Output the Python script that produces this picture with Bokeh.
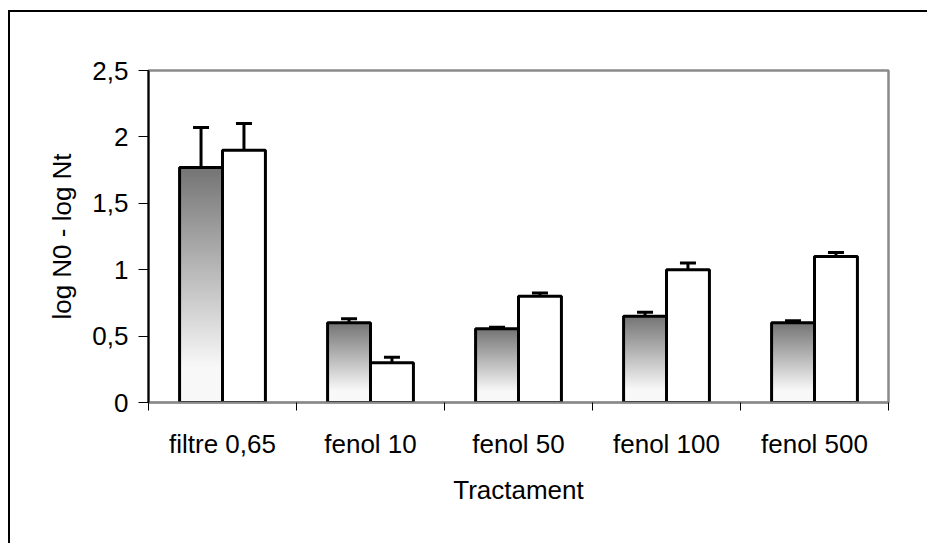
from bokeh.plotting import figure
from bokeh.models import (ColumnDataSource, FixedTicker, CustomJSTickFormatter,
                          Whisker, TeeHead, Range1d)
from bokeh.embed import file_html
from bokeh.resources import INLINE

# Treatment groups and measured log reductions (mean and error)
categories = ["filtre 0,65", "fenol 10", "fenol 50", "fenol 100", "fenol 500"]
series_a = [1.77, 0.60, 0.555, 0.65, 0.60]
series_a_err = [0.30, 0.03, 0.012, 0.03, 0.015]
series_b = [1.90, 0.30, 0.80, 1.00, 1.10]
series_b_err = [0.20, 0.04, 0.025, 0.05, 0.03]
y_ticks = [0, 0.5, 1, 1.5, 2, 2.5]

FONT = "Liberation Sans"
BAR_W = 0.29

p = figure(width=927, height=543, output_backend="svg", toolbar_location=None,
           x_range=Range1d(0, len(categories)), y_range=Range1d(0, 2.5),
           frame_width=740, frame_height=332,
           min_border_left=148, min_border_right=39,
           min_border_top=70, min_border_bottom=141)
# chart-area frame: left and top edges painted on the host background,
# visible through the transparent border area of the canvas
p.styles = {"background": ("linear-gradient(#000, #000) 8px 10px / 2px 100% no-repeat, "
                           "linear-gradient(#000, #000) 8px 10px / 100% 2px no-repeat, "
                           "#ffffff")}
p.background_fill_color = "white"
p.border_fill_color = None
p.grid.visible = False
p.outline_line_color = "#8a8a8a"
p.outline_line_width = 2.5

centers = [i + 0.5 for i in range(len(categories))]


def grey_at(frac_from_top):
    # dark grey at the top of the bar, fading to near white towards the base
    t = min(frac_from_top / 0.85, 1.0)
    v = int(round(0x74 + t * (0xf8 - 0x74)))
    return "#%02x%02x%02x" % (v, v, v)


# gradient-filled bars for the first series: nested quads from the base,
# tallest (darkest) first so every lighter one covers the lower part
n_slices = 90
sl = dict(left=[], right=[], top=[], color=[])
for c, v in zip(centers, series_a):
    for k in range(n_slices, 0, -1):
        sl["left"].append(c - BAR_W)
        sl["right"].append(c)
        sl["top"].append(v * k / n_slices)
        sl["color"].append(grey_at(1 - (k - 0.5) / n_slices))
p.quad(left="left", right="right", bottom=0, top="top", source=ColumnDataSource(sl),
       fill_color="color", line_color=None)

# outlines of the first series
p.quad(left=[c - BAR_W for c in centers], right=centers, bottom=0, top=series_a,
       fill_color=None, line_color="black", line_width=3)
# second series: white bars
p.quad(left=centers, right=[c + BAR_W for c in centers], bottom=0, top=series_b,
       fill_color="white", line_color="black", line_width=3)

# error bars
ea = ColumnDataSource(dict(x=[c - BAR_W / 2 for c in centers],
                           lo=[v - e for v, e in zip(series_a, series_a_err)],
                           hi=[v + e for v, e in zip(series_a, series_a_err)]))
eb = ColumnDataSource(dict(x=[c + BAR_W / 2 for c in centers],
                           lo=[v - e for v, e in zip(series_b, series_b_err)],
                           hi=[v + e for v, e in zip(series_b, series_b_err)]))
for src in (ea, eb):
    w = Whisker(base="x", lower="lo", upper="hi", source=src, line_color="black", line_width=3,
                upper_head=TeeHead(size=16, line_color="black", line_width=3),
                lower_head=TeeHead(size=16, line_color="black", line_width=3))
    p.add_layout(w)

# y axis
yax = p.yaxis[0]
yax.ticker = FixedTicker(ticks=y_ticks, minor_ticks=[])
yax.formatter = CustomJSTickFormatter(code="return tick.toString().replace('.', ',');")
yax.axis_line_color = "black"
yax.axis_line_width = 2
yax.major_tick_out = 10
yax.major_tick_in = 0
yax.major_tick_line_color = "black"
yax.minor_tick_out = 0
yax.minor_tick_in = 0
yax.major_label_standoff = 10
yax.major_label_text_font = FONT
yax.major_label_text_font_size = "26px"
yax.major_label_text_color = "black"
yax.axis_label = "log N0 - log Nt"
yax.axis_label_text_font = FONT
yax.axis_label_text_font_size = "26px"
yax.axis_label_text_font_style = "normal"
yax.axis_label_text_color = "black"
yax.axis_label_standoff = 12

# x axis: labels at group centres, ticks on group boundaries
xax = p.xaxis[0]
xax.ticker = FixedTicker(ticks=centers, minor_ticks=list(range(len(categories) + 1)))
xax.formatter = CustomJSTickFormatter(args=dict(labels=categories),
                                      code="return labels[Math.floor(tick)];")
xax.axis_line_color = "#8a8a8a"
xax.axis_line_width = 2
xax.major_tick_out = 0
xax.major_tick_in = 0
xax.minor_tick_out = 8
xax.minor_tick_in = 0
xax.minor_tick_line_color = "black"
xax.minor_tick_line_width = 1
xax.major_label_standoff = 18
xax.major_label_text_font = FONT
xax.major_label_text_font_size = "26px"
xax.major_label_text_color = "black"
xax.axis_label = "Tractament"
xax.axis_label_text_font = FONT
xax.axis_label_text_font_size = "26px"
xax.axis_label_text_font_style = "normal"
xax.axis_label_text_color = "black"
xax.axis_label_standoff = 13

open("out.html", "w").write(file_html(p, INLINE))
